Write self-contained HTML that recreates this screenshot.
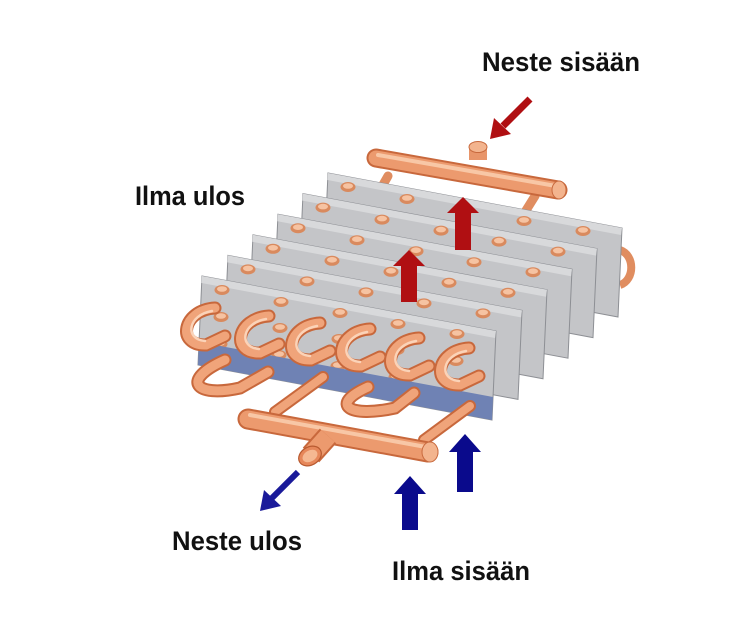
<!DOCTYPE html>
<html><head><meta charset="utf-8"><style>
html,body{margin:0;padding:0;background:#fff;}
svg{display:block;}
text{font-family:"Liberation Sans Narrow","Liberation Sans",sans-serif;font-weight:bold;fill:#111;}
</style></head><body>
<svg width="749" height="624" viewBox="0 0 749 624" xmlns="http://www.w3.org/2000/svg">
<defs>
<g id="hole">
<ellipse cx="0" cy="0" rx="7.5" ry="5" fill="#d98a5e"/>
<ellipse cx="0" cy="-1" rx="5" ry="2.8" fill="#f6c3a2"/>
</g>
<g id="plate">
<polygon points="0,0 294,55 290,144 -4,89" fill="#c4c5c8" stroke="#8d8f94" stroke-width="1"/>
<polygon points="0,0 294,55 293,62 -0.5,7" fill="#d8d9db"/>
<use href="#hole" x="20" y="14"/><use href="#hole" x="79" y="26"/><use href="#hole" x="138" y="37"/><use href="#hole" x="196" y="48"/><use href="#hole" x="255" y="58"/>
<use href="#hole" x="19" y="41"/><use href="#hole" x="78" y="52"/><use href="#hole" x="137" y="63"/><use href="#hole" x="195" y="74"/><use href="#hole" x="254" y="85"/>
<use href="#hole" x="18" y="68"/><use href="#hole" x="77" y="79"/><use href="#hole" x="136" y="90"/><use href="#hole" x="194" y="101"/><use href="#hole" x="253" y="112"/>
</g>
</defs>
<rect width="749" height="624" fill="#fff"/>

<line x1="388" y1="176" x2="380" y2="190" stroke="#e08d60" stroke-width="9" stroke-linecap="round"/>
<line x1="535" y1="196" x2="525" y2="212" stroke="#e08d60" stroke-width="9" stroke-linecap="round"/>
<line x1="478" y1="160" x2="478" y2="148" stroke="#e8956a" stroke-width="18"/>
<ellipse cx="478" cy="147" rx="9" ry="5.5" fill="#f3b48e" stroke="#c86a3e" stroke-width="1"/>
<line x1="376" y1="158" x2="558" y2="190" stroke="#c8683c" stroke-width="19" stroke-linecap="round"/>
<line x1="376" y1="158" x2="558" y2="190" stroke="#ec9a6e" stroke-width="15" stroke-linecap="round"/>
<line x1="378" y1="155" x2="556" y2="186" stroke="#f8c7a6" stroke-width="4" stroke-linecap="round"/>
<ellipse cx="559" cy="190" rx="7" ry="9" fill="#f3b48e" stroke="#c86a3e" stroke-width="1"/>

<path d="M620,250 C635,255 635,280 620,285" fill="none" stroke="#e08d60" stroke-width="8"/>

<use href="#plate" transform="translate(328,173)"/>
<use href="#plate" transform="translate(303,193.6)"/>
<use href="#plate" transform="translate(278,214.2)"/>
<use href="#plate" transform="translate(253,234.8)"/>
<use href="#plate" transform="translate(228,255.4)"/>
<g transform="translate(202,276)">
<use href="#plate"/>
<polygon points="-3,66 291,121 290,144 -4,89" fill="#6f82b4"/>
</g>

<polygon points="455,250 455,213 447,213 463,197 479,213 471,213 471,250" fill="#b00f12"/>
<polygon points="401,302 401,266 393,266 409,250 425,266 417,266 417,302" fill="#b00f12"/>

<path d="M225,360 C180,380 195,398 240,388 L268,372" fill="none" stroke="#c8683c" stroke-width="13" stroke-linecap="round"/>
<path d="M225,360 C180,380 195,398 240,388 L268,372" fill="none" stroke="#f0a47a" stroke-width="9" stroke-linecap="round"/>
<path d="M368,387 C328,405 350,418 395,408 L414,393" fill="none" stroke="#c8683c" stroke-width="13" stroke-linecap="round"/>
<path d="M368,387 C328,405 350,418 395,408 L414,393" fill="none" stroke="#f0a47a" stroke-width="9" stroke-linecap="round"/>

<g fill="none" stroke-linecap="round">
<g id="cb">
<path d="M215,308 C182,310 176,346 206,345 L225,336" stroke="#c8683c" stroke-width="13"/>
<path d="M215,308 C182,310 176,346 206,345 L225,336" stroke="#f0a47a" stroke-width="9"/>
<path d="M212,311 C188,315 184,339 205,341" stroke="#fbd3b8" stroke-width="2.5"/>
</g>
<use href="#cb" transform="translate(54,8)"/>
<use href="#cb" transform="translate(105,15)"/>
<use href="#cb" transform="translate(155,21)"/>
<use href="#cb" transform="translate(204,30)"/>
<use href="#cb" transform="translate(254,40)"/>
</g>

<line x1="323" y1="377" x2="275" y2="412" stroke="#c8683c" stroke-width="12" stroke-linecap="round"/>
<line x1="323" y1="377" x2="275" y2="412" stroke="#f0a47a" stroke-width="8" stroke-linecap="round"/>
<line x1="470" y1="406" x2="424" y2="440" stroke="#c8683c" stroke-width="12" stroke-linecap="round"/>
<line x1="470" y1="406" x2="424" y2="440" stroke="#f0a47a" stroke-width="8" stroke-linecap="round"/>

<line x1="248" y1="419" x2="428" y2="452" stroke="#c8683c" stroke-width="21" stroke-linecap="round"/>
<line x1="248" y1="419" x2="428" y2="452" stroke="#ec9a6e" stroke-width="17" stroke-linecap="round"/>
<line x1="250" y1="415" x2="426" y2="447" stroke="#f8c7a6" stroke-width="4" stroke-linecap="round"/>
<ellipse cx="430" cy="452" rx="8" ry="10" fill="#f3b48e" stroke="#c86a3e" stroke-width="1"/>
<line x1="328" y1="436" x2="311" y2="455" stroke="#c8683c" stroke-width="22"/>
<line x1="328" y1="436" x2="311" y2="455" stroke="#ec9a6e" stroke-width="18"/>
<ellipse cx="310" cy="456" rx="12" ry="9" transform="rotate(-30 310 456)" fill="#e6875a" stroke="#b85a30" stroke-width="1.2"/>
<ellipse cx="310" cy="456" rx="8" ry="5.5" transform="rotate(-30 310 456)" fill="#f5b892"/>

<polygon points="457,492 457,452 449,452 465,434 481,452 473,452 473,492" fill="#0a0a8c"/>
<polygon points="402,530 402,494 394,494 410,476 426,494 418,494 418,530" fill="#0a0a8c"/>

<line x1="530" y1="99" x2="503" y2="126" stroke="#b00f12" stroke-width="7"/>
<polygon points="490,139 494,118 511,134" fill="#b00f12"/>
<line x1="298" y1="472" x2="272" y2="498" stroke="#1a1a9a" stroke-width="6"/>
<polygon points="260,511 264,490 281,506" fill="#1a1a9a"/>

<text x="482" y="71" font-size="27" textLength="158" lengthAdjust="spacingAndGlyphs">Neste sisään</text>
<text x="135" y="205" font-size="27" textLength="110" lengthAdjust="spacingAndGlyphs">Ilma ulos</text>
<text x="172" y="550" font-size="27" textLength="130" lengthAdjust="spacingAndGlyphs">Neste ulos</text>
<text x="392" y="580" font-size="27" textLength="138" lengthAdjust="spacingAndGlyphs">Ilma sisään</text>
</svg>
</body></html>
